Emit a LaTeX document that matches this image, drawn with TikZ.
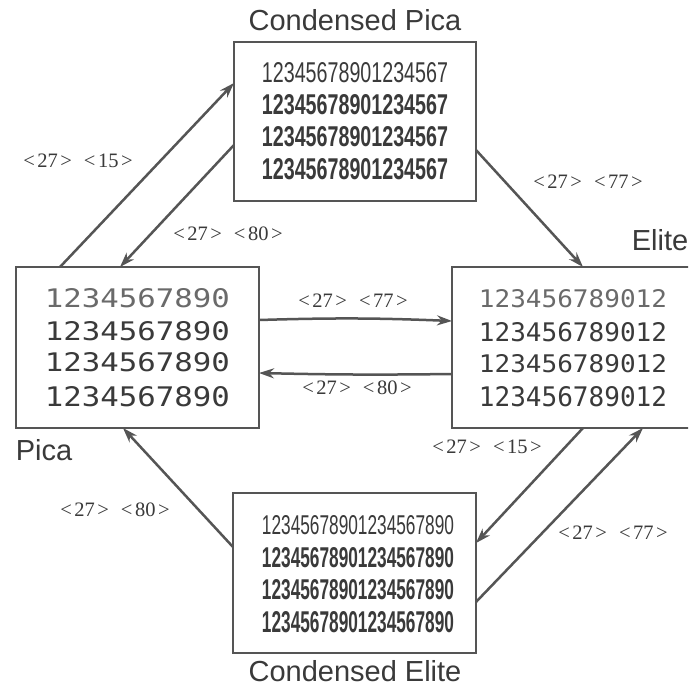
\documentclass[tikz,border=0pt]{standalone}
\usepackage{fontspec}
\setmainfont{Liberation Serif}
\setsansfont{Liberation Sans}
\newfontfamily\digmono{DejaVu Sans Mono}
\newfontfamily\digcond{Liberation Sans}
\usetikzlibrary{arrows.meta}
\definecolor{ink}{HTML}{555555}
\definecolor{txt}{HTML}{3A3A3A}
\definecolor{dots}{HTML}{6A6A6A}
\newcommand{\digrow}[3]{\resizebox{#1pt}{#2pt}{#3}}
\newcommand{\codepair}[2]{<\hspace{2.5pt}#1\hspace{2.5pt}>\hspace{12pt}<\hspace{2.5pt}#2\hspace{2.5pt}>}
\tikzset{
  box/.style={draw=ink, line width=2.5pt, inner sep=0pt, outer sep=0pt, fill=white},
  row/.style={inner sep=0pt, text=txt},
  conn/.style={draw=ink, line width=2.5pt, -{Stealth[length=15pt,width=10pt]}},
  code/.style={inner sep=0pt, text=txt, font=\fontsize{20.5}{21}\selectfont},
  title/.style={inner sep=0pt, text=txt, font=\sffamily\fontsize{29}{29}\selectfont}
}
\begin{document}
\begin{tikzpicture}[x=1pt,y=-1pt]
\useasboundingbox (0,0) rectangle (688,688);
\clip (0,0) rectangle (688,688);
\fill[white] (0,0) rectangle (688,688);

% boxes
\node[box, minimum width=243pt, minimum height=161pt] (pica) at (137.5,347.5) {};
\node[box, minimum width=243pt, minimum height=161pt] (elite) at (573.5,347.5) {};
\node[box, minimum width=242pt, minimum height=159pt] (cpica) at (355,121.5) {};
\node[box, minimum width=243pt, minimum height=160pt] (celite) at (354.5,573) {};

% titles
\node[title] (cpicat) at (355,20) {Condensed Pica};
\node[title] (celitet) at (355,671) {Condensed Elite};
\node[title] (picat) at (44,450) {Pica};
\node[title] (elitet) at (660,240) {Elite};

% Pica rows
\node[row, text=dots] (p1) at (137.5,298) {\digrow{185}{19}{\digmono 1234567890}};
\node[row] (p2) at (137.5,331) {\digrow{185}{19}{\digmono 1234567890}};
\node[row] (p3) at (137.5,362) {\digrow{185}{19}{\digmono 1234567890}};
\node[row] (p4) at (137.5,397) {\digrow{185}{20}{\digmono 1234567890}};

% Elite rows
\node[row, text=dots] (e1) at (573,299) {\digrow{188}{18}{\digmono 123456789012}};
\node[row] (e2) at (573,332) {\digrow{188}{19}{\digmono 123456789012}};
\node[row] (e3) at (573,364) {\digrow{188}{18}{\digmono 123456789012}};
\node[row] (e4) at (573,397) {\digrow{188}{20}{\digmono 123456789012}};

% Condensed Pica rows
\node[row] (cp1) at (355,73) {\digrow{186}{20}{\digcond 12345678901234567}};
\node[row] (cp2) at (355,105) {\digrow{186}{20}{\digcond\bfseries 12345678901234567}};
\node[row] (cp3) at (355,137) {\digrow{186}{20}{\digcond\bfseries 12345678901234567}};
\node[row] (cp4) at (355,169) {\digrow{186}{21}{\digcond\bfseries 12345678901234567}};

% Condensed Elite rows
\node[row] (ce1) at (358,525) {\digrow{192}{19}{\digcond 12345678901234567890}};
\node[row] (ce2) at (358,558) {\digrow{192}{20}{\digcond\bfseries 12345678901234567890}};
\node[row] (ce3) at (358,590) {\digrow{192}{20}{\digcond\bfseries 12345678901234567890}};
\node[row] (ce4) at (358,622) {\digrow{192}{21}{\digcond\bfseries 12345678901234567890}};

% connectors
\draw[conn] ([xshift=44pt]pica.north west) -- ([yshift=-41pt]cpica.north west);
\draw[conn] ([yshift=-103pt]cpica.north west) -- ([xshift=104pt]pica.north west);
\draw[conn] ([yshift=-108pt]cpica.north east) -- ([xshift=131pt]elite.north west);
\draw[conn] ([yshift=-53pt]pica.north east) to[bend left=2] ([yshift=-54pt]elite.north west);
\draw[conn] ([yshift=-107pt]elite.north west) to[bend left=1] ([yshift=-106pt]pica.north east);
\draw[conn] ([xshift=131pt]elite.south west) -- ([yshift=-50pt]celite.north east);
\draw[conn] ([yshift=-109pt]celite.north east) -- ([xshift=191pt]elite.south west);
\draw[conn] ([yshift=-54pt]celite.north west) -- ([xshift=107pt]pica.south west);

% code labels
\node[code] (l1) at (78,161) {\codepair{27}{15}};
\node[code] (l2) at (228,234) {\codepair{27}{80}};
\node[code] (l3) at (588,182) {\codepair{27}{77}};
\node[code] (l4) at (353,301) {\codepair{27}{77}};
\node[code] (l5) at (357,388) {\codepair{27}{80}};
\node[code] (l6) at (487,447) {\codepair{27}{15}};
\node[code] (l7) at (613,533) {\codepair{27}{77}};
\node[code] (l8) at (115,510) {\codepair{27}{80}};
\end{tikzpicture}
\end{document}
